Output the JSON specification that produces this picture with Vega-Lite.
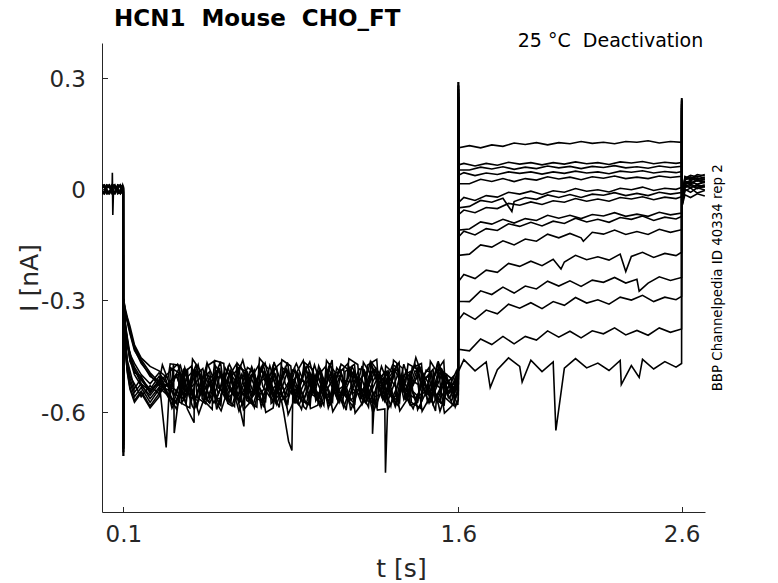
{
"$schema": "https://vega.github.io/schema/vega-lite/v6.json",
"width": 603,
"height": 469,
"autosize": {"type": "none"},
"padding": {"left": 102, "top": 43, "right": 73, "bottom": 71},
"background": "white",
"title": {"text": "HCN1 \u00a0Mouse \u00a0CHO_FT", "anchor": "start", "frame": "group", "dx": 12, "offset": -17, "baseline": "alphabetic", "font": "DejaVu Sans", "fontSize": 23, "fontWeight": "bold", "color": "#000000"},
"config": {"view": {"stroke": null}, "font": "DejaVu Sans"},
"layer": [
{
"data": {"values": [
{"s":1,"t":0.005,"i":0.003},{"s":1,"t":0.015,"i":0.01},{"s":1,"t":0.025,"i":-0.006},{"s":1,"t":0.038,"i":-0.008},{"s":1,"t":0.05,"i":0.005},{"s":1,"t":0.051,"i":0.045},{"s":1,"t":0.053,"i":-0.069},{"s":1,"t":0.056,"i":-0.004},{"s":1,"t":0.062,"i":0.009},{"s":1,"t":0.075,"i":0.006},{"s":1,"t":0.087,"i":-0.011},{"s":1,"t":0.097,"i":-0.003},{"s":1,"t":0.1,"i":0.002},
{"s":1,"t":0.1005,"i":-0.72},{"s":1,"t":0.101,"i":-0.295},{"s":1,"t":0.108,"i":-0.32},{"s":1,"t":0.118,"i":-0.345},{"s":1,"t":0.13,"i":-0.37},{"s":1,"t":0.15,"i":-0.42},{"s":1,"t":0.18,"i":-0.455},{"s":1,"t":0.22,"i":-0.478},{"s":1,"t":0.26,"i":-0.49},
{"s":1,"t":0.3,"i":-0.51},{"s":1,"t":0.35,"i":-0.475},{"s":1,"t":0.4,"i":-0.533},{"s":1,"t":0.45,"i":-0.493},{"s":1,"t":0.5,"i":-0.515},{"s":1,"t":0.55,"i":-0.47},{"s":1,"t":0.6,"i":-0.527},{"s":1,"t":0.65,"i":-0.501},{"s":1,"t":0.7,"i":-0.543},{"s":1,"t":0.75,"i":-0.485},{"s":1,"t":0.8,"i":-0.517},{"s":1,"t":0.85,"i":-0.477},{"s":1,"t":0.9,"i":-0.513},{"s":1,"t":0.95,"i":-0.487},{"s":1,"t":1.0,"i":-0.535},{"s":1,"t":1.05,"i":-0.495},{"s":1,"t":1.1,"i":-0.525},{"s":1,"t":1.15,"i":-0.473},{"s":1,"t":1.2,"i":-0.52},{"s":1,"t":1.25,"i":-0.499},{"s":1,"t":1.3,"i":-0.53},{"s":1,"t":1.35,"i":-0.483},{"s":1,"t":1.4,"i":-0.48},{"s":1,"t":1.45,"i":-0.523},{"s":1,"t":1.5,"i":-0.497},{"s":1,"t":1.55,"i":-0.54},{"s":1,"t":1.6,"i":-0.49},
{"s":1,"t":0.31,"i":-0.471},{"s":1,"t":0.36,"i":-0.554},{"s":1,"t":0.41,"i":-0.458},{"s":1,"t":0.46,"i":-0.543},{"s":1,"t":0.51,"i":-0.462},{"s":1,"t":0.56,"i":-0.556},{"s":1,"t":0.61,"i":-0.469},{"s":1,"t":0.66,"i":-0.548},{"s":1,"t":0.71,"i":-0.456},{"s":1,"t":0.76,"i":-0.545},{"s":1,"t":0.81,"i":-0.46},{"s":1,"t":0.86,"i":-0.552},{"s":1,"t":0.91,"i":-0.467},{"s":1,"t":0.96,"i":-0.558},{"s":1,"t":1.01,"i":-0.462},{"s":1,"t":1.06,"i":-0.542},{"s":1,"t":1.11,"i":-0.457},{"s":1,"t":1.16,"i":-0.55},{"s":1,"t":1.21,"i":-0.466},{"s":1,"t":1.26,"i":-0.554},{"s":1,"t":1.31,"i":-0.461},{"s":1,"t":1.36,"i":-0.546},{"s":1,"t":1.41,"i":-0.454},{"s":1,"t":1.46,"i":-0.548},{"s":1,"t":1.51,"i":-0.464},{"s":1,"t":1.56,"i":-0.549},
{"s":1,"t":1.6005,"i":0.29},
{"s":1,"t":1.602,"i":0.112},{"s":1,"t":1.65,"i":0.118},{"s":1,"t":1.7,"i":0.112},{"s":1,"t":1.75,"i":0.12},{"s":1,"t":1.8,"i":0.116},{"s":1,"t":1.85,"i":0.125},{"s":1,"t":1.9,"i":0.121},{"s":1,"t":1.95,"i":0.126},{"s":1,"t":2.0,"i":0.12},{"s":1,"t":2.05,"i":0.126},{"s":1,"t":2.1,"i":0.123},{"s":1,"t":2.15,"i":0.129},{"s":1,"t":2.2,"i":0.124},{"s":1,"t":2.25,"i":0.127},{"s":1,"t":2.3,"i":0.123},{"s":1,"t":2.35,"i":0.129},{"s":1,"t":2.4,"i":0.127},{"s":1,"t":2.45,"i":0.131},{"s":1,"t":2.5,"i":0.125},{"s":1,"t":2.55,"i":0.129},{"s":1,"t":2.6,"i":0.127},
{"s":1,"t":2.6005,"i":0.246},{"s":1,"t":2.602,"i":-0.02},{"s":1,"t":2.615,"i":0.03},{"s":1,"t":2.64,"i":0.038},{"s":1,"t":2.67,"i":0.033},{"s":1,"t":2.704,"i":0.04},

{"s":2,"t":0.005,"i":-0.009},{"s":2,"t":0.015,"i":-0.01},{"s":2,"t":0.025,"i":0.008},{"s":2,"t":0.038,"i":0.009},{"s":2,"t":0.05,"i":-0.005},{"s":2,"t":0.062,"i":-0.007},{"s":2,"t":0.075,"i":0.011},{"s":2,"t":0.087,"i":0.01},{"s":2,"t":0.097,"i":0.003},{"s":2,"t":0.1,"i":-0.006},
{"s":2,"t":0.1005,"i":-0.7},{"s":2,"t":0.101,"i":-0.3},{"s":2,"t":0.108,"i":-0.36},{"s":2,"t":0.118,"i":-0.4},{"s":2,"t":0.13,"i":-0.445},{"s":2,"t":0.15,"i":-0.47},{"s":2,"t":0.18,"i":-0.5},{"s":2,"t":0.22,"i":-0.525},{"s":2,"t":0.26,"i":-0.495},
{"s":2,"t":0.325,"i":-0.55},{"s":2,"t":0.375,"i":-0.493},{"s":2,"t":0.425,"i":-0.519},{"s":2,"t":0.475,"i":-0.477},{"s":2,"t":0.525,"i":-0.535},{"s":2,"t":0.575,"i":-0.503},{"s":2,"t":0.625,"i":-0.543},{"s":2,"t":0.675,"i":-0.507},{"s":2,"t":0.725,"i":-0.533},{"s":2,"t":0.775,"i":-0.485},{"s":2,"t":0.825,"i":-0.525},{"s":2,"t":0.875,"i":-0.495},{"s":2,"t":0.925,"i":-0.547},{"s":2,"t":0.975,"i":-0.5},{"s":2,"t":1.025,"i":-0.521},{"s":2,"t":1.075,"i":-0.49},{"s":2,"t":1.125,"i":-0.537},{"s":2,"t":1.175,"i":-0.54},{"s":2,"t":1.225,"i":-0.497},{"s":2,"t":1.275,"i":-0.523},{"s":2,"t":1.325,"i":-0.48},{"s":2,"t":1.375,"i":-0.53},{"s":2,"t":1.425,"i":-0.51},{"s":2,"t":1.475,"i":-0.545},{"s":2,"t":1.525,"i":-0.487},{"s":2,"t":1.575,"i":-0.527},{"s":2,"t":1.6,"i":-0.505},
{"s":2,"t":0.356,"i":-0.562},{"s":2,"t":0.406,"i":-0.477},{"s":2,"t":0.456,"i":-0.558},{"s":2,"t":0.506,"i":-0.464},{"s":2,"t":0.556,"i":-0.551},{"s":2,"t":0.606,"i":-0.472},{"s":2,"t":0.656,"i":-0.564},{"s":2,"t":0.706,"i":-0.475},{"s":2,"t":0.756,"i":-0.56},{"s":2,"t":0.806,"i":-0.468},{"s":2,"t":0.856,"i":-0.553},{"s":2,"t":0.906,"i":-0.462},{"s":2,"t":0.956,"i":-0.558},{"s":2,"t":1.006,"i":-0.478},{"s":2,"t":1.056,"i":-0.563},{"s":2,"t":1.106,"i":-0.47},{"s":2,"t":1.156,"i":-0.554},{"s":2,"t":1.206,"i":-0.466},{"s":2,"t":1.256,"i":-0.559},{"s":2,"t":1.306,"i":-0.474},{"s":2,"t":1.356,"i":-0.566},{"s":2,"t":1.406,"i":-0.472},{"s":2,"t":1.456,"i":-0.556},{"s":2,"t":1.506,"i":-0.471},{"s":2,"t":1.556,"i":-0.549},
{"s":2,"t":1.6005,"i":0.27},
{"s":2,"t":1.602,"i":0.066},{"s":2,"t":1.625,"i":0.07},{"s":2,"t":1.675,"i":0.063},{"s":2,"t":1.725,"i":0.07},{"s":2,"t":1.775,"i":0.065},{"s":2,"t":1.825,"i":0.073},{"s":2,"t":1.875,"i":0.068},{"s":2,"t":1.925,"i":0.072},{"s":2,"t":1.975,"i":0.066},{"s":2,"t":2.025,"i":0.072},{"s":2,"t":2.075,"i":0.068},{"s":2,"t":2.125,"i":0.074},{"s":2,"t":2.175,"i":0.069},{"s":2,"t":2.225,"i":0.072},{"s":2,"t":2.275,"i":0.067},{"s":2,"t":2.325,"i":0.074},{"s":2,"t":2.375,"i":0.071},{"s":2,"t":2.425,"i":0.075},{"s":2,"t":2.475,"i":0.069},{"s":2,"t":2.525,"i":0.073},{"s":2,"t":2.575,"i":0.07},{"s":2,"t":2.6,"i":0.072},
{"s":2,"t":2.6005,"i":0.23},{"s":2,"t":2.602,"i":-0.03},{"s":2,"t":2.615,"i":0.025},{"s":2,"t":2.64,"i":0.031},{"s":2,"t":2.67,"i":0.022},{"s":2,"t":2.704,"i":0.028},

{"s":3,"t":0.005,"i":0.006},{"s":3,"t":0.015,"i":0.008},{"s":3,"t":0.025,"i":-0.011},{"s":3,"t":0.038,"i":-0.012},{"s":3,"t":0.05,"i":0.009},{"s":3,"t":0.062,"i":0.01},{"s":3,"t":0.075,"i":-0.003},{"s":3,"t":0.087,"i":-0.006},{"s":3,"t":0.097,"i":0.012},{"s":3,"t":0.1,"i":0.005},
{"s":3,"t":0.1005,"i":-0.68},{"s":3,"t":0.101,"i":-0.305},{"s":3,"t":0.108,"i":-0.395},{"s":3,"t":0.118,"i":-0.462},{"s":3,"t":0.13,"i":-0.49},{"s":3,"t":0.15,"i":-0.538},{"s":3,"t":0.18,"i":-0.51},{"s":3,"t":0.22,"i":-0.548},{"s":3,"t":0.26,"i":-0.515},{"s":3,"t":0.292,"i":-0.697},
{"s":3,"t":0.306,"i":-0.537},{"s":3,"t":0.356,"i":-0.497},{"s":3,"t":0.406,"i":-0.533},{"s":3,"t":0.456,"i":-0.507},{"s":3,"t":0.506,"i":-0.555},{"s":3,"t":0.556,"i":-0.515},{"s":3,"t":0.606,"i":-0.545},{"s":3,"t":0.656,"i":-0.493},{"s":3,"t":0.706,"i":-0.54},{"s":3,"t":0.756,"i":-0.519},{"s":3,"t":0.806,"i":-0.55},{"s":3,"t":0.856,"i":-0.503},{"s":3,"t":0.906,"i":-0.5},{"s":3,"t":0.956,"i":-0.543},{"s":3,"t":1.006,"i":-0.517},{"s":3,"t":1.056,"i":-0.56},{"s":3,"t":1.106,"i":-0.51},{"s":3,"t":1.156,"i":-0.53},{"s":3,"t":1.206,"i":-0.495},{"s":3,"t":1.256,"i":-0.553},{"s":3,"t":1.306,"i":-0.513},{"s":3,"t":1.356,"i":-0.535},{"s":3,"t":1.406,"i":-0.49},{"s":3,"t":1.456,"i":-0.547},{"s":3,"t":1.506,"i":-0.521},{"s":3,"t":1.556,"i":-0.563},{"s":3,"t":1.6,"i":-0.505},
{"s":3,"t":0.312,"i":-0.482},{"s":3,"t":0.362,"i":-0.576},{"s":3,"t":0.412,"i":-0.489},{"s":3,"t":0.462,"i":-0.568},{"s":3,"t":0.512,"i":-0.476},{"s":3,"t":0.562,"i":-0.565},{"s":3,"t":0.612,"i":-0.48},{"s":3,"t":0.662,"i":-0.572},{"s":3,"t":0.712,"i":-0.487},{"s":3,"t":0.762,"i":-0.578},{"s":3,"t":0.812,"i":-0.482},{"s":3,"t":0.862,"i":-0.562},{"s":3,"t":0.912,"i":-0.477},{"s":3,"t":0.962,"i":-0.57},{"s":3,"t":1.012,"i":-0.486},{"s":3,"t":1.062,"i":-0.574},{"s":3,"t":1.112,"i":-0.481},{"s":3,"t":1.162,"i":-0.566},{"s":3,"t":1.212,"i":-0.474},{"s":3,"t":1.262,"i":-0.568},{"s":3,"t":1.312,"i":-0.484},{"s":3,"t":1.362,"i":-0.569},{"s":3,"t":1.412,"i":-0.491},{"s":3,"t":1.462,"i":-0.574},{"s":3,"t":1.512,"i":-0.478},{"s":3,"t":1.562,"i":-0.563},
{"s":3,"t":1.6005,"i":0.25},
{"s":3,"t":1.602,"i":0.052},{"s":3,"t":1.65,"i":0.052},{"s":3,"t":1.7,"i":0.06},{"s":3,"t":1.75,"i":0.055},{"s":3,"t":1.8,"i":0.061},{"s":3,"t":1.85,"i":0.054},{"s":3,"t":1.9,"i":0.06},{"s":3,"t":1.95,"i":0.056},{"s":3,"t":2.0,"i":0.063},{"s":3,"t":2.05,"i":0.058},{"s":3,"t":2.1,"i":0.062},{"s":3,"t":2.15,"i":0.056},{"s":3,"t":2.2,"i":0.062},{"s":3,"t":2.25,"i":0.059},{"s":3,"t":2.3,"i":0.064},{"s":3,"t":2.35,"i":0.058},{"s":3,"t":2.4,"i":0.061},{"s":3,"t":2.45,"i":0.057},{"s":3,"t":2.5,"i":0.063},{"s":3,"t":2.55,"i":0.059},{"s":3,"t":2.6,"i":0.062},
{"s":3,"t":2.6005,"i":0.22},{"s":3,"t":2.602,"i":-0.04},{"s":3,"t":2.615,"i":0.02},{"s":3,"t":2.64,"i":0.015},{"s":3,"t":2.67,"i":0.026},{"s":3,"t":2.704,"i":0.021},

{"s":4,"t":0.005,"i":-0.005},{"s":4,"t":0.015,"i":-0.009},{"s":4,"t":0.025,"i":0.009},{"s":4,"t":0.038,"i":0.011},{"s":4,"t":0.05,"i":-0.012},{"s":4,"t":0.062,"i":-0.01},{"s":4,"t":0.075,"i":0.006},{"s":4,"t":0.087,"i":0.008},{"s":4,"t":0.097,"i":-0.008},{"s":4,"t":0.1,"i":0.003},
{"s":4,"t":0.1005,"i":-0.71},{"s":4,"t":0.101,"i":-0.3},{"s":4,"t":0.108,"i":-0.365},{"s":4,"t":0.118,"i":-0.415},{"s":4,"t":0.13,"i":-0.455},{"s":4,"t":0.15,"i":-0.49},{"s":4,"t":0.18,"i":-0.515},{"s":4,"t":0.22,"i":-0.545},{"s":4,"t":0.26,"i":-0.52},
{"s":4,"t":0.331,"i":-0.54},{"s":4,"t":0.381,"i":-0.51},{"s":4,"t":0.431,"i":-0.562},{"s":4,"t":0.481,"i":-0.515},{"s":4,"t":0.531,"i":-0.536},{"s":4,"t":0.581,"i":-0.505},{"s":4,"t":0.631,"i":-0.552},{"s":4,"t":0.681,"i":-0.555},{"s":4,"t":0.731,"i":-0.512},{"s":4,"t":0.781,"i":-0.538},{"s":4,"t":0.831,"i":-0.495},{"s":4,"t":0.881,"i":-0.545},{"s":4,"t":0.931,"i":-0.525},{"s":4,"t":0.981,"i":-0.56},{"s":4,"t":1.031,"i":-0.502},{"s":4,"t":1.081,"i":-0.542},{"s":4,"t":1.131,"i":-0.52},{"s":4,"t":1.181,"i":-0.565},{"s":4,"t":1.231,"i":-0.508},{"s":4,"t":1.281,"i":-0.534},{"s":4,"t":1.331,"i":-0.492},{"s":4,"t":1.381,"i":-0.55},{"s":4,"t":1.431,"i":-0.518},{"s":4,"t":1.481,"i":-0.558},{"s":4,"t":1.531,"i":-0.522},{"s":4,"t":1.581,"i":-0.548},{"s":4,"t":1.6,"i":-0.5},
{"s":4,"t":0.369,"i":-0.566},{"s":4,"t":0.419,"i":-0.487},{"s":4,"t":0.469,"i":-0.579},{"s":4,"t":0.519,"i":-0.49},{"s":4,"t":0.569,"i":-0.575},{"s":4,"t":0.619,"i":-0.483},{"s":4,"t":0.669,"i":-0.568},{"s":4,"t":0.719,"i":-0.477},{"s":4,"t":0.769,"i":-0.573},{"s":4,"t":0.819,"i":-0.493},{"s":4,"t":0.869,"i":-0.578},{"s":4,"t":0.919,"i":-0.485},{"s":4,"t":0.969,"i":-0.569},{"s":4,"t":1.019,"i":-0.481},{"s":4,"t":1.069,"i":-0.574},{"s":4,"t":1.119,"i":-0.489},{"s":4,"t":1.169,"i":-0.581},{"s":4,"t":1.219,"i":-0.487},{"s":4,"t":1.269,"i":-0.571},{"s":4,"t":1.319,"i":-0.486},{"s":4,"t":1.369,"i":-0.564},{"s":4,"t":1.419,"i":-0.481},{"s":4,"t":1.469,"i":-0.577},{"s":4,"t":1.519,"i":-0.492},{"s":4,"t":1.569,"i":-0.573},
{"s":4,"t":1.6005,"i":0.28},
{"s":4,"t":1.602,"i":0.038},{"s":4,"t":1.625,"i":0.045},{"s":4,"t":1.675,"i":0.037},{"s":4,"t":1.725,"i":0.044},{"s":4,"t":1.775,"i":0.04},{"s":4,"t":1.825,"i":0.047},{"s":4,"t":1.875,"i":0.043},{"s":4,"t":1.925,"i":0.047},{"s":4,"t":1.975,"i":0.041},{"s":4,"t":2.025,"i":0.047},{"s":4,"t":2.075,"i":0.043},{"s":4,"t":2.125,"i":0.049},{"s":4,"t":2.175,"i":0.044},{"s":4,"t":2.225,"i":0.047},{"s":4,"t":2.275,"i":0.042},{"s":4,"t":2.325,"i":0.049},{"s":4,"t":2.375,"i":0.046},{"s":4,"t":2.425,"i":0.05},{"s":4,"t":2.475,"i":0.044},{"s":4,"t":2.525,"i":0.048},{"s":4,"t":2.575,"i":0.045},{"s":4,"t":2.6,"i":0.048},
{"s":4,"t":2.6005,"i":0.24},{"s":4,"t":2.602,"i":-0.025},{"s":4,"t":2.615,"i":0.035},{"s":4,"t":2.64,"i":0.028},{"s":4,"t":2.67,"i":0.04},{"s":4,"t":2.704,"i":0.036},

{"s":5,"t":0.005,"i":0.011},{"s":5,"t":0.015,"i":0.012},{"s":5,"t":0.025,"i":-0.003},{"s":5,"t":0.038,"i":-0.007},{"s":5,"t":0.05,"i":0.006},{"s":5,"t":0.062,"i":0.008},{"s":5,"t":0.075,"i":-0.009},{"s":5,"t":0.087,"i":-0.01},{"s":5,"t":0.097,"i":0.005},{"s":5,"t":0.1,"i":-0.002},
{"s":5,"t":0.1005,"i":-0.66},{"s":5,"t":0.101,"i":-0.298},{"s":5,"t":0.108,"i":-0.33},{"s":5,"t":0.118,"i":-0.35},{"s":5,"t":0.13,"i":-0.385},{"s":5,"t":0.15,"i":-0.43},{"s":5,"t":0.18,"i":-0.47},{"s":5,"t":0.22,"i":-0.5},{"s":5,"t":0.26,"i":-0.53},
{"s":5,"t":0.312,"i":-0.545},{"s":5,"t":0.328,"i":-0.658},{"s":5,"t":0.362,"i":-0.498},{"s":5,"t":0.412,"i":-0.495},{"s":5,"t":0.462,"i":-0.538},{"s":5,"t":0.512,"i":-0.512},{"s":5,"t":0.562,"i":-0.555},{"s":5,"t":0.612,"i":-0.505},{"s":5,"t":0.662,"i":-0.525},{"s":5,"t":0.712,"i":-0.49},{"s":5,"t":0.762,"i":-0.548},{"s":5,"t":0.812,"i":-0.508},{"s":5,"t":0.862,"i":-0.53},{"s":5,"t":0.912,"i":-0.485},{"s":5,"t":0.962,"i":-0.542},{"s":5,"t":1.012,"i":-0.516},{"s":5,"t":1.062,"i":-0.558},{"s":5,"t":1.112,"i":-0.5},{"s":5,"t":1.162,"i":-0.532},{"s":5,"t":1.212,"i":-0.492},{"s":5,"t":1.262,"i":-0.528},{"s":5,"t":1.312,"i":-0.502},{"s":5,"t":1.362,"i":-0.55},{"s":5,"t":1.412,"i":-0.51},{"s":5,"t":1.462,"i":-0.54},{"s":5,"t":1.512,"i":-0.488},{"s":5,"t":1.562,"i":-0.535},{"s":5,"t":1.6,"i":-0.514},
{"s":5,"t":0.325,"i":-0.471},{"s":5,"t":0.375,"i":-0.56},{"s":5,"t":0.425,"i":-0.475},{"s":5,"t":0.475,"i":-0.567},{"s":5,"t":0.525,"i":-0.482},{"s":5,"t":0.575,"i":-0.573},{"s":5,"t":0.625,"i":-0.477},{"s":5,"t":0.675,"i":-0.557},{"s":5,"t":0.725,"i":-0.472},{"s":5,"t":0.775,"i":-0.565},{"s":5,"t":0.825,"i":-0.481},{"s":5,"t":0.875,"i":-0.569},{"s":5,"t":0.925,"i":-0.476},{"s":5,"t":0.975,"i":-0.561},{"s":5,"t":1.025,"i":-0.469},{"s":5,"t":1.075,"i":-0.563},{"s":5,"t":1.125,"i":-0.479},{"s":5,"t":1.175,"i":-0.564},{"s":5,"t":1.225,"i":-0.486},{"s":5,"t":1.275,"i":-0.569},{"s":5,"t":1.325,"i":-0.473},{"s":5,"t":1.375,"i":-0.558},{"s":5,"t":1.425,"i":-0.477},{"s":5,"t":1.475,"i":-0.571},{"s":5,"t":1.525,"i":-0.484},{"s":5,"t":1.575,"i":-0.563},
{"s":5,"t":1.6005,"i":0.26},
{"s":5,"t":1.602,"i":0.015},{"s":5,"t":1.65,"i":0.015},{"s":5,"t":1.7,"i":0.027},{"s":5,"t":1.75,"i":0.021},{"s":5,"t":1.8,"i":0.029},{"s":5,"t":1.85,"i":0.021},{"s":5,"t":1.9,"i":0.029},{"s":5,"t":1.95,"i":0.025},{"s":5,"t":2.0,"i":0.034},{"s":5,"t":2.05,"i":0.028},{"s":5,"t":2.1,"i":0.033},{"s":5,"t":2.15,"i":0.026},{"s":5,"t":2.2,"i":0.034},{"s":5,"t":2.25,"i":0.03},{"s":5,"t":2.3,"i":0.036},{"s":5,"t":2.35,"i":0.029},{"s":5,"t":2.4,"i":0.033},{"s":5,"t":2.45,"i":0.029},{"s":5,"t":2.5,"i":0.036},{"s":5,"t":2.55,"i":0.032},{"s":5,"t":2.6,"i":0.035},
{"s":5,"t":2.6005,"i":0.21},{"s":5,"t":2.602,"i":-0.035},{"s":5,"t":2.615,"i":0.012},{"s":5,"t":2.64,"i":0.02},{"s":5,"t":2.67,"i":0.014},{"s":5,"t":2.704,"i":0.022},

{"s":6,"t":0.005,"i":-0.012},{"s":6,"t":0.015,"i":-0.007},{"s":6,"t":0.025,"i":0.005},{"s":6,"t":0.038,"i":0.01},{"s":6,"t":0.05,"i":-0.008},{"s":6,"t":0.062,"i":-0.012},{"s":6,"t":0.075,"i":0.012},{"s":6,"t":0.087,"i":0.009},{"s":6,"t":0.097,"i":-0.005},{"s":6,"t":0.1,"i":0.008},
{"s":6,"t":0.1005,"i":-0.69},{"s":6,"t":0.101,"i":-0.302},{"s":6,"t":0.108,"i":-0.41},{"s":6,"t":0.118,"i":-0.47},{"s":6,"t":0.13,"i":-0.505},{"s":6,"t":0.15,"i":-0.525},{"s":6,"t":0.18,"i":-0.56},{"s":6,"t":0.22,"i":-0.53},{"s":6,"t":0.26,"i":-0.552},
{"s":6,"t":0.337,"i":-0.5},{"s":6,"t":0.387,"i":-0.55},{"s":6,"t":0.437,"i":-0.53},{"s":6,"t":0.487,"i":-0.565},{"s":6,"t":0.537,"i":-0.507},{"s":6,"t":0.587,"i":-0.547},{"s":6,"t":0.637,"i":-0.525},{"s":6,"t":0.687,"i":-0.57},{"s":6,"t":0.737,"i":-0.513},{"s":6,"t":0.787,"i":-0.539},{"s":6,"t":0.837,"i":-0.497},{"s":6,"t":0.887,"i":-0.555},{"s":6,"t":0.937,"i":-0.523},{"s":6,"t":0.987,"i":-0.563},{"s":6,"t":1.037,"i":-0.527},{"s":6,"t":1.087,"i":-0.553},{"s":6,"t":1.137,"i":-0.505},{"s":6,"t":1.187,"i":-0.545},{"s":6,"t":1.237,"i":-0.515},{"s":6,"t":1.287,"i":-0.567},{"s":6,"t":1.337,"i":-0.52},{"s":6,"t":1.387,"i":-0.541},{"s":6,"t":1.437,"i":-0.51},{"s":6,"t":1.487,"i":-0.557},{"s":6,"t":1.537,"i":-0.56},{"s":6,"t":1.587,"i":-0.517},{"s":6,"t":1.6,"i":-0.543},
{"s":6,"t":0.381,"i":-0.58},{"s":6,"t":0.431,"i":-0.488},{"s":6,"t":0.481,"i":-0.573},{"s":6,"t":0.531,"i":-0.482},{"s":6,"t":0.581,"i":-0.578},{"s":6,"t":0.631,"i":-0.498},{"s":6,"t":0.681,"i":-0.583},{"s":6,"t":0.731,"i":-0.49},{"s":6,"t":0.781,"i":-0.574},{"s":6,"t":0.831,"i":-0.486},{"s":6,"t":0.881,"i":-0.579},{"s":6,"t":0.931,"i":-0.494},{"s":6,"t":0.981,"i":-0.586},{"s":6,"t":1.031,"i":-0.492},{"s":6,"t":1.081,"i":-0.576},{"s":6,"t":1.131,"i":-0.491},{"s":6,"t":1.181,"i":-0.569},{"s":6,"t":1.231,"i":-0.486},{"s":6,"t":1.281,"i":-0.582},{"s":6,"t":1.331,"i":-0.497},{"s":6,"t":1.381,"i":-0.578},{"s":6,"t":1.431,"i":-0.484},{"s":6,"t":1.481,"i":-0.571},{"s":6,"t":1.531,"i":-0.492},{"s":6,"t":1.581,"i":-0.584},
{"s":6,"t":1.6005,"i":0.24},
{"s":6,"t":1.602,"i":-0.035},{"s":6,"t":1.625,"i":-0.022},{"s":6,"t":1.675,"i":-0.03},{"s":6,"t":1.725,"i":-0.017},{"s":6,"t":1.775,"i":-0.021},{"s":6,"t":1.825,"i":-0.008},{"s":6,"t":1.875,"i":-0.013},{"s":6,"t":1.925,"i":-0.005},{"s":6,"t":1.975,"i":-0.014},{"s":6,"t":2.025,"i":-0.004},{"s":6,"t":2.075,"i":-0.008},{"s":6,"t":2.125,"i":0.002},{"s":6,"t":2.175,"i":-0.005},{"s":6,"t":2.225,"i":-0.001},{"s":6,"t":2.275,"i":-0.007},{"s":6,"t":2.325,"i":0.003},{"s":6,"t":2.375,"i":-0.001},{"s":6,"t":2.425,"i":0.006},{"s":6,"t":2.475,"i":-0.003},{"s":6,"t":2.525,"i":0.003},{"s":6,"t":2.575,"i":0.0},{"s":6,"t":2.6,"i":0.005},
{"s":6,"t":2.6005,"i":0.235},{"s":6,"t":2.602,"i":-0.045},{"s":6,"t":2.615,"i":0.005},{"s":6,"t":2.64,"i":0.01},{"s":6,"t":2.67,"i":0.002},{"s":6,"t":2.704,"i":0.008},

{"s":7,"t":0.005,"i":0.008},{"s":7,"t":0.015,"i":0.009},{"s":7,"t":0.025,"i":-0.009},{"s":7,"t":0.038,"i":-0.01},{"s":7,"t":0.05,"i":0.012},{"s":7,"t":0.062,"i":0.007},{"s":7,"t":0.075,"i":-0.006},{"s":7,"t":0.087,"i":-0.012},{"s":7,"t":0.097,"i":0.009},{"s":7,"t":0.1,"i":-0.003},
{"s":7,"t":0.1005,"i":-0.72},{"s":7,"t":0.101,"i":-0.3},{"s":7,"t":0.108,"i":-0.37},{"s":7,"t":0.118,"i":-0.42},{"s":7,"t":0.13,"i":-0.46},{"s":7,"t":0.15,"i":-0.5},{"s":7,"t":0.18,"i":-0.53},{"s":7,"t":0.22,"i":-0.556},{"s":7,"t":0.26,"i":-0.525},
{"s":7,"t":0.318,"i":-0.528},{"s":7,"t":0.368,"i":-0.55},{"s":7,"t":0.417,"i":-0.63},{"s":7,"t":0.418,"i":-0.505},{"s":7,"t":0.468,"i":-0.562},{"s":7,"t":0.518,"i":-0.536},{"s":7,"t":0.568,"i":-0.578},{"s":7,"t":0.618,"i":-0.52},{"s":7,"t":0.668,"i":-0.552},{"s":7,"t":0.718,"i":-0.512},{"s":7,"t":0.768,"i":-0.548},{"s":7,"t":0.818,"i":-0.522},{"s":7,"t":0.868,"i":-0.57},{"s":7,"t":0.918,"i":-0.53},{"s":7,"t":0.968,"i":-0.56},{"s":7,"t":1.018,"i":-0.508},{"s":7,"t":1.068,"i":-0.555},{"s":7,"t":1.118,"i":-0.534},{"s":7,"t":1.168,"i":-0.565},{"s":7,"t":1.218,"i":-0.518},{"s":7,"t":1.268,"i":-0.515},{"s":7,"t":1.318,"i":-0.558},{"s":7,"t":1.368,"i":-0.532},{"s":7,"t":1.418,"i":-0.575},{"s":7,"t":1.468,"i":-0.525},{"s":7,"t":1.518,"i":-0.545},{"s":7,"t":1.568,"i":-0.51},{"s":7,"t":1.6,"i":-0.568},
{"s":7,"t":0.337,"i":-0.502},{"s":7,"t":0.387,"i":-0.593},{"s":7,"t":0.437,"i":-0.497},{"s":7,"t":0.487,"i":-0.577},{"s":7,"t":0.537,"i":-0.492},{"s":7,"t":0.587,"i":-0.585},{"s":7,"t":0.637,"i":-0.501},{"s":7,"t":0.687,"i":-0.589},{"s":7,"t":0.737,"i":-0.496},{"s":7,"t":0.787,"i":-0.581},{"s":7,"t":0.837,"i":-0.489},{"s":7,"t":0.887,"i":-0.583},{"s":7,"t":0.937,"i":-0.499},{"s":7,"t":0.987,"i":-0.584},{"s":7,"t":1.037,"i":-0.506},{"s":7,"t":1.087,"i":-0.589},{"s":7,"t":1.137,"i":-0.493},{"s":7,"t":1.187,"i":-0.578},{"s":7,"t":1.237,"i":-0.497},{"s":7,"t":1.287,"i":-0.591},{"s":7,"t":1.337,"i":-0.504},{"s":7,"t":1.387,"i":-0.583},{"s":7,"t":1.437,"i":-0.491},{"s":7,"t":1.487,"i":-0.58},{"s":7,"t":1.537,"i":-0.495},{"s":7,"t":1.587,"i":-0.587},
{"s":7,"t":1.6005,"i":0.29},
{"s":7,"t":1.602,"i":-0.05},{"s":7,"t":1.65,"i":-0.046},{"s":7,"t":1.7,"i":-0.03},{"s":7,"t":1.75,"i":-0.035},{"s":7,"t":1.8,"i":-0.024},{"s":7,"t":1.84,"i":-0.06},{"s":7,"t":1.85,"i":-0.033},{"s":7,"t":1.9,"i":-0.022},{"s":7,"t":1.95,"i":-0.027},{"s":7,"t":2.0,"i":-0.015},{"s":7,"t":2.05,"i":-0.022},{"s":7,"t":2.1,"i":-0.014},{"s":7,"t":2.15,"i":-0.022},{"s":7,"t":2.2,"i":-0.013},{"s":7,"t":2.25,"i":-0.016},{"s":7,"t":2.3,"i":-0.009},{"s":7,"t":2.35,"i":-0.017},{"s":7,"t":2.4,"i":-0.011},{"s":7,"t":2.45,"i":-0.017},{"s":7,"t":2.5,"i":-0.008},{"s":7,"t":2.55,"i":-0.013},{"s":7,"t":2.6,"i":-0.009},
{"s":7,"t":2.6005,"i":0.246},{"s":7,"t":2.602,"i":-0.03},{"s":7,"t":2.615,"i":0.018},{"s":7,"t":2.64,"i":0.024},{"s":7,"t":2.67,"i":0.03},{"s":7,"t":2.704,"i":0.026},

{"s":8,"t":0.005,"i":-0.003},{"s":8,"t":0.015,"i":-0.011},{"s":8,"t":0.025,"i":0.012},{"s":8,"t":0.038,"i":0.008},{"s":8,"t":0.05,"i":-0.006},{"s":8,"t":0.062,"i":-0.009},{"s":8,"t":0.075,"i":0.003},{"s":8,"t":0.087,"i":0.01},{"s":8,"t":0.097,"i":-0.011},{"s":8,"t":0.1,"i":0.006},
{"s":8,"t":0.1005,"i":-0.67},{"s":8,"t":0.101,"i":-0.296},{"s":8,"t":0.108,"i":-0.325},{"s":8,"t":0.118,"i":-0.355},{"s":8,"t":0.13,"i":-0.38},{"s":8,"t":0.15,"i":-0.425},{"s":8,"t":0.18,"i":-0.46},{"s":8,"t":0.22,"i":-0.495},{"s":8,"t":0.26,"i":-0.52},
{"s":8,"t":0.343,"i":-0.472},{"s":8,"t":0.393,"i":-0.53},{"s":8,"t":0.443,"i":-0.498},{"s":8,"t":0.493,"i":-0.538},{"s":8,"t":0.543,"i":-0.502},{"s":8,"t":0.593,"i":-0.528},{"s":8,"t":0.643,"i":-0.48},{"s":8,"t":0.693,"i":-0.52},{"s":8,"t":0.743,"i":-0.49},{"s":8,"t":0.793,"i":-0.542},{"s":8,"t":0.843,"i":-0.495},{"s":8,"t":0.893,"i":-0.516},{"s":8,"t":0.943,"i":-0.485},{"s":8,"t":0.993,"i":-0.532},{"s":8,"t":1.043,"i":-0.535},{"s":8,"t":1.093,"i":-0.492},{"s":8,"t":1.143,"i":-0.518},{"s":8,"t":1.193,"i":-0.475},{"s":8,"t":1.243,"i":-0.525},{"s":8,"t":1.293,"i":-0.505},{"s":8,"t":1.343,"i":-0.54},{"s":8,"t":1.393,"i":-0.482},{"s":8,"t":1.443,"i":-0.522},{"s":8,"t":1.493,"i":-0.5},{"s":8,"t":1.543,"i":-0.545},{"s":8,"t":1.593,"i":-0.488},{"s":8,"t":1.6,"i":-0.514},
{"s":8,"t":0.385,"i":-0.553},{"s":8,"t":0.435,"i":-0.473},{"s":8,"t":0.485,"i":-0.558},{"s":8,"t":0.535,"i":-0.465},{"s":8,"t":0.585,"i":-0.549},{"s":8,"t":0.635,"i":-0.461},{"s":8,"t":0.685,"i":-0.554},{"s":8,"t":0.735,"i":-0.469},{"s":8,"t":0.785,"i":-0.561},{"s":8,"t":0.835,"i":-0.467},{"s":8,"t":0.885,"i":-0.551},{"s":8,"t":0.935,"i":-0.466},{"s":8,"t":0.985,"i":-0.544},{"s":8,"t":1.035,"i":-0.461},{"s":8,"t":1.085,"i":-0.557},{"s":8,"t":1.135,"i":-0.472},{"s":8,"t":1.185,"i":-0.553},{"s":8,"t":1.235,"i":-0.459},{"s":8,"t":1.285,"i":-0.546},{"s":8,"t":1.335,"i":-0.467},{"s":8,"t":1.385,"i":-0.559},{"s":8,"t":1.435,"i":-0.47},{"s":8,"t":1.485,"i":-0.555},{"s":8,"t":1.535,"i":-0.463},{"s":8,"t":1.585,"i":-0.548},
{"s":8,"t":1.6005,"i":0.27},
{"s":8,"t":1.602,"i":-0.068},{"s":8,"t":1.625,"i":-0.056},{"s":8,"t":1.675,"i":-0.063},{"s":8,"t":1.725,"i":-0.049},{"s":8,"t":1.775,"i":-0.052},{"s":8,"t":1.825,"i":-0.038},{"s":8,"t":1.875,"i":-0.043},{"s":8,"t":1.925,"i":-0.034},{"s":8,"t":1.975,"i":-0.041},{"s":8,"t":2.025,"i":-0.031},{"s":8,"t":2.075,"i":-0.035},{"s":8,"t":2.125,"i":-0.025},{"s":8,"t":2.175,"i":-0.032},{"s":8,"t":2.225,"i":-0.026},{"s":8,"t":2.275,"i":-0.032},{"s":8,"t":2.325,"i":-0.022},{"s":8,"t":2.375,"i":-0.026},{"s":8,"t":2.425,"i":-0.02},{"s":8,"t":2.475,"i":-0.028},{"s":8,"t":2.525,"i":-0.021},{"s":8,"t":2.575,"i":-0.025},{"s":8,"t":2.6,"i":-0.02},
{"s":8,"t":2.6005,"i":0.22},{"s":8,"t":2.602,"i":-0.04},{"s":8,"t":2.615,"i":0.0},{"s":8,"t":2.64,"i":-0.008},{"s":8,"t":2.67,"i":0.004},{"s":8,"t":2.704,"i":-0.002},

{"s":9,"t":0.005,"i":0.009},{"s":9,"t":0.015,"i":0.01},{"s":9,"t":0.025,"i":-0.005},{"s":9,"t":0.038,"i":-0.009},{"s":9,"t":0.05,"i":0.003},{"s":9,"t":0.062,"i":0.012},{"s":9,"t":0.075,"i":-0.012},{"s":9,"t":0.087,"i":-0.008},{"s":9,"t":0.097,"i":0.006},{"s":9,"t":0.1,"i":-0.008},
{"s":9,"t":0.1005,"i":-0.7},{"s":9,"t":0.101,"i":-0.304},{"s":9,"t":0.108,"i":-0.42},{"s":9,"t":0.118,"i":-0.485},{"s":9,"t":0.13,"i":-0.52},{"s":9,"t":0.15,"i":-0.56},{"s":9,"t":0.18,"i":-0.535},{"s":9,"t":0.22,"i":-0.575},{"s":9,"t":0.26,"i":-0.54},
{"s":9,"t":0.303,"i":-0.527},{"s":9,"t":0.353,"i":-0.575},{"s":9,"t":0.403,"i":-0.535},{"s":9,"t":0.453,"i":-0.565},{"s":9,"t":0.503,"i":-0.513},{"s":9,"t":0.553,"i":-0.56},{"s":9,"t":0.603,"i":-0.539},{"s":9,"t":0.64,"i":-0.64},{"s":9,"t":0.653,"i":-0.57},{"s":9,"t":0.703,"i":-0.523},{"s":9,"t":0.753,"i":-0.52},{"s":9,"t":0.803,"i":-0.563},{"s":9,"t":0.853,"i":-0.537},{"s":9,"t":0.903,"i":-0.58},{"s":9,"t":0.953,"i":-0.53},{"s":9,"t":1.003,"i":-0.55},{"s":9,"t":1.053,"i":-0.515},{"s":9,"t":1.103,"i":-0.573},{"s":9,"t":1.153,"i":-0.533},{"s":9,"t":1.203,"i":-0.555},{"s":9,"t":1.253,"i":-0.51},{"s":9,"t":1.303,"i":-0.567},{"s":9,"t":1.353,"i":-0.541},{"s":9,"t":1.403,"i":-0.583},{"s":9,"t":1.453,"i":-0.525},{"s":9,"t":1.503,"i":-0.557},{"s":9,"t":1.553,"i":-0.517},{"s":9,"t":1.6,"i":-0.553},
{"s":9,"t":0.348,"i":-0.497},{"s":9,"t":0.398,"i":-0.59},{"s":9,"t":0.448,"i":-0.506},{"s":9,"t":0.498,"i":-0.594},{"s":9,"t":0.548,"i":-0.501},{"s":9,"t":0.598,"i":-0.586},{"s":9,"t":0.648,"i":-0.494},{"s":9,"t":0.698,"i":-0.588},{"s":9,"t":0.748,"i":-0.504},{"s":9,"t":0.798,"i":-0.589},{"s":9,"t":0.848,"i":-0.511},{"s":9,"t":0.898,"i":-0.594},{"s":9,"t":0.948,"i":-0.498},{"s":9,"t":0.998,"i":-0.583},{"s":9,"t":1.048,"i":-0.502},{"s":9,"t":1.098,"i":-0.596},{"s":9,"t":1.148,"i":-0.509},{"s":9,"t":1.198,"i":-0.588},{"s":9,"t":1.248,"i":-0.496},{"s":9,"t":1.298,"i":-0.585},{"s":9,"t":1.348,"i":-0.5},{"s":9,"t":1.398,"i":-0.592},{"s":9,"t":1.448,"i":-0.507},{"s":9,"t":1.498,"i":-0.598},{"s":9,"t":1.548,"i":-0.502},{"s":9,"t":1.598,"i":-0.582},
{"s":9,"t":1.6005,"i":0.25},
{"s":9,"t":1.602,"i":-0.11},{"s":9,"t":1.65,"i":-0.107},{"s":9,"t":1.7,"i":-0.088},{"s":9,"t":1.75,"i":-0.094},{"s":9,"t":1.8,"i":-0.081},{"s":9,"t":1.85,"i":-0.091},{"s":9,"t":1.9,"i":-0.079},{"s":9,"t":1.95,"i":-0.084},{"s":9,"t":2.0,"i":-0.07},{"s":9,"t":2.05,"i":-0.078},{"s":9,"t":2.1,"i":-0.07},{"s":9,"t":2.15,"i":-0.079},{"s":9,"t":2.2,"i":-0.068},{"s":9,"t":2.25,"i":-0.072},{"s":9,"t":2.3,"i":-0.063},{"s":9,"t":2.35,"i":-0.073},{"s":9,"t":2.4,"i":-0.067},{"s":9,"t":2.45,"i":-0.073},{"s":9,"t":2.5,"i":-0.062},{"s":9,"t":2.55,"i":-0.069},{"s":9,"t":2.6,"i":-0.064},
{"s":9,"t":2.6005,"i":0.23},{"s":9,"t":2.602,"i":-0.02},{"s":9,"t":2.615,"i":0.028},{"s":9,"t":2.64,"i":0.034},{"s":9,"t":2.67,"i":0.027},{"s":9,"t":2.704,"i":0.032},

{"s":10,"t":0.005,"i":-0.008},{"s":10,"t":0.015,"i":-0.008},{"s":10,"t":0.025,"i":0.006},{"s":10,"t":0.038,"i":0.012},{"s":10,"t":0.05,"i":-0.011},{"s":10,"t":0.062,"i":-0.008},{"s":10,"t":0.075,"i":0.008},{"s":10,"t":0.087,"i":0.011},{"s":10,"t":0.097,"i":-0.002},{"s":10,"t":0.1,"i":0.009},
{"s":10,"t":0.1005,"i":-0.68},{"s":10,"t":0.101,"i":-0.3},{"s":10,"t":0.108,"i":-0.355},{"s":10,"t":0.118,"i":-0.41},{"s":10,"t":0.13,"i":-0.45},{"s":10,"t":0.15,"i":-0.48},{"s":10,"t":0.18,"i":-0.51},{"s":10,"t":0.22,"i":-0.54},{"s":10,"t":0.26,"i":-0.505},
{"s":10,"t":0.328,"i":-0.51},{"s":10,"t":0.378,"i":-0.531},{"s":10,"t":0.428,"i":-0.5},{"s":10,"t":0.478,"i":-0.547},{"s":10,"t":0.528,"i":-0.55},{"s":10,"t":0.578,"i":-0.507},{"s":10,"t":0.628,"i":-0.533},{"s":10,"t":0.678,"i":-0.49},{"s":10,"t":0.728,"i":-0.54},{"s":10,"t":0.778,"i":-0.52},{"s":10,"t":0.828,"i":-0.555},{"s":10,"t":0.878,"i":-0.497},{"s":10,"t":0.928,"i":-0.537},{"s":10,"t":0.978,"i":-0.515},{"s":10,"t":1.028,"i":-0.56},{"s":10,"t":1.078,"i":-0.503},{"s":10,"t":1.128,"i":-0.529},{"s":10,"t":1.178,"i":-0.487},{"s":10,"t":1.228,"i":-0.545},{"s":10,"t":1.278,"i":-0.513},{"s":10,"t":1.328,"i":-0.553},{"s":10,"t":1.378,"i":-0.517},{"s":10,"t":1.428,"i":-0.543},{"s":10,"t":1.478,"i":-0.495},{"s":10,"t":1.528,"i":-0.535},{"s":10,"t":1.578,"i":-0.505},{"s":10,"t":1.6,"i":-0.557},
{"s":10,"t":0.306,"i":-0.564},{"s":10,"t":0.356,"i":-0.476},{"s":10,"t":0.406,"i":-0.569},{"s":10,"t":0.456,"i":-0.484},{"s":10,"t":0.506,"i":-0.576},{"s":10,"t":0.556,"i":-0.482},{"s":10,"t":0.606,"i":-0.566},{"s":10,"t":0.656,"i":-0.481},{"s":10,"t":0.706,"i":-0.559},{"s":10,"t":0.756,"i":-0.476},{"s":10,"t":0.806,"i":-0.572},{"s":10,"t":0.856,"i":-0.487},{"s":10,"t":0.906,"i":-0.568},{"s":10,"t":0.956,"i":-0.474},{"s":10,"t":1.006,"i":-0.561},{"s":10,"t":1.056,"i":-0.482},{"s":10,"t":1.106,"i":-0.574},{"s":10,"t":1.156,"i":-0.485},{"s":10,"t":1.206,"i":-0.57},{"s":10,"t":1.256,"i":-0.478},{"s":10,"t":1.306,"i":-0.563},{"s":10,"t":1.356,"i":-0.472},{"s":10,"t":1.406,"i":-0.568},{"s":10,"t":1.456,"i":-0.488},{"s":10,"t":1.506,"i":-0.573},
{"s":10,"t":1.6005,"i":0.28},
{"s":10,"t":1.602,"i":-0.128},{"s":10,"t":1.625,"i":-0.113},{"s":10,"t":1.675,"i":-0.123},{"s":10,"t":1.725,"i":-0.106},{"s":10,"t":1.775,"i":-0.111},{"s":10,"t":1.825,"i":-0.093},{"s":10,"t":1.875,"i":-0.1},{"s":10,"t":1.925,"i":-0.089},{"s":10,"t":1.975,"i":-0.099},{"s":10,"t":2.025,"i":-0.086},{"s":10,"t":2.075,"i":-0.092},{"s":10,"t":2.125,"i":-0.078},{"s":10,"t":2.175,"i":-0.088},{"s":10,"t":2.225,"i":-0.081},{"s":10,"t":2.275,"i":-0.089},{"s":10,"t":2.325,"i":-0.076},{"s":10,"t":2.375,"i":-0.081},{"s":10,"t":2.425,"i":-0.072},{"s":10,"t":2.475,"i":-0.084},{"s":10,"t":2.525,"i":-0.075},{"s":10,"t":2.575,"i":-0.08},{"s":10,"t":2.6,"i":-0.073},
{"s":10,"t":2.6005,"i":0.2},{"s":10,"t":2.602,"i":-0.035},{"s":10,"t":2.615,"i":0.01},{"s":10,"t":2.64,"i":0.004},{"s":10,"t":2.67,"i":0.012},{"s":10,"t":2.704,"i":0.006},

{"s":11,"t":0.005,"i":0.005},{"s":11,"t":0.015,"i":0.011},{"s":11,"t":0.025,"i":-0.012},{"s":11,"t":0.038,"i":-0.01},{"s":11,"t":0.05,"i":0.008},{"s":11,"t":0.062,"i":0.009},{"s":11,"t":0.075,"i":0.002},{"s":11,"t":0.087,"i":-0.009},{"s":11,"t":0.097,"i":-0.009},{"s":11,"t":0.1,"i":0.003},
{"s":11,"t":0.1005,"i":-0.71},{"s":11,"t":0.101,"i":-0.306},{"s":11,"t":0.108,"i":-0.43},{"s":11,"t":0.118,"i":-0.49},{"s":11,"t":0.13,"i":-0.535},{"s":11,"t":0.15,"i":-0.57},{"s":11,"t":0.18,"i":-0.545},{"s":11,"t":0.22,"i":-0.585},{"s":11,"t":0.26,"i":-0.552},
{"s":11,"t":0.309,"i":-0.568},{"s":11,"t":0.359,"i":-0.542},{"s":11,"t":0.409,"i":-0.585},{"s":11,"t":0.459,"i":-0.535},{"s":11,"t":0.509,"i":-0.555},{"s":11,"t":0.559,"i":-0.52},{"s":11,"t":0.609,"i":-0.578},{"s":11,"t":0.659,"i":-0.538},{"s":11,"t":0.709,"i":-0.56},{"s":11,"t":0.759,"i":-0.515},{"s":11,"t":0.809,"i":-0.572},{"s":11,"t":0.84,"i":-0.68},{"s":11,"t":0.855,"i":-0.705},{"s":11,"t":0.859,"i":-0.546},{"s":11,"t":0.909,"i":-0.588},{"s":11,"t":0.959,"i":-0.53},{"s":11,"t":1.009,"i":-0.562},{"s":11,"t":1.059,"i":-0.522},{"s":11,"t":1.109,"i":-0.558},{"s":11,"t":1.159,"i":-0.532},{"s":11,"t":1.209,"i":-0.58},{"s":11,"t":1.259,"i":-0.54},{"s":11,"t":1.309,"i":-0.57},{"s":11,"t":1.359,"i":-0.518},{"s":11,"t":1.409,"i":-0.565},{"s":11,"t":1.459,"i":-0.544},{"s":11,"t":1.509,"i":-0.575},{"s":11,"t":1.559,"i":-0.528},{"s":11,"t":1.6,"i":-0.525},
{"s":11,"t":0.268,"i":-0.506},{"s":11,"t":0.318,"i":-0.591},{"s":11,"t":0.368,"i":-0.499},{"s":11,"t":0.418,"i":-0.593},{"s":11,"t":0.468,"i":-0.509},{"s":11,"t":0.518,"i":-0.594},{"s":11,"t":0.568,"i":-0.516},{"s":11,"t":0.618,"i":-0.599},{"s":11,"t":0.668,"i":-0.503},{"s":11,"t":0.718,"i":-0.588},{"s":11,"t":0.768,"i":-0.507},{"s":11,"t":0.818,"i":-0.601},{"s":11,"t":0.868,"i":-0.514},{"s":11,"t":0.918,"i":-0.593},{"s":11,"t":0.968,"i":-0.501},{"s":11,"t":1.018,"i":-0.59},{"s":11,"t":1.068,"i":-0.505},{"s":11,"t":1.118,"i":-0.597},{"s":11,"t":1.168,"i":-0.512},{"s":11,"t":1.218,"i":-0.603},{"s":11,"t":1.268,"i":-0.507},{"s":11,"t":1.318,"i":-0.587},{"s":11,"t":1.368,"i":-0.502},{"s":11,"t":1.418,"i":-0.595},{"s":11,"t":1.468,"i":-0.511},{"s":11,"t":1.518,"i":-0.599},
{"s":11,"t":1.6005,"i":0.23},
{"s":11,"t":1.602,"i":-0.178},{"s":11,"t":1.65,"i":-0.175},{"s":11,"t":1.7,"i":-0.15},{"s":11,"t":1.75,"i":-0.156},{"s":11,"t":1.8,"i":-0.139},{"s":11,"t":1.85,"i":-0.15},{"s":11,"t":1.9,"i":-0.134},{"s":11,"t":1.95,"i":-0.14},{"s":11,"t":2.0,"i":-0.121},{"s":11,"t":2.05,"i":-0.131},{"s":11,"t":2.1,"i":-0.119},{"s":11,"t":2.15,"i":-0.131},{"s":11,"t":2.16,"i":-0.14},{"s":11,"t":2.2,"i":-0.116},{"s":11,"t":2.25,"i":-0.121},{"s":11,"t":2.3,"i":-0.11},{"s":11,"t":2.35,"i":-0.122},{"s":11,"t":2.4,"i":-0.114},{"s":11,"t":2.45,"i":-0.122},{"s":11,"t":2.5,"i":-0.108},{"s":11,"t":2.55,"i":-0.116},{"s":11,"t":2.6,"i":-0.109},
{"s":11,"t":2.6005,"i":0.24},{"s":11,"t":2.602,"i":-0.045},{"s":11,"t":2.615,"i":0.022},{"s":11,"t":2.64,"i":0.016},{"s":11,"t":2.67,"i":0.024},{"s":11,"t":2.704,"i":0.018},

{"s":12,"t":0.005,"i":-0.011},{"s":12,"t":0.015,"i":-0.012},{"s":12,"t":0.025,"i":0.003},{"s":12,"t":0.038,"i":0.007},{"s":12,"t":0.05,"i":-0.003},{"s":12,"t":0.062,"i":-0.011},{"s":12,"t":0.075,"i":0.009},{"s":12,"t":0.087,"i":0.008},{"s":12,"t":0.097,"i":0.008},{"s":12,"t":0.1,"i":-0.005},
{"s":12,"t":0.1005,"i":-0.69},{"s":12,"t":0.101,"i":-0.3},{"s":12,"t":0.108,"i":-0.36},{"s":12,"t":0.118,"i":-0.425},{"s":12,"t":0.13,"i":-0.44},{"s":12,"t":0.15,"i":-0.495},{"s":12,"t":0.18,"i":-0.505},{"s":12,"t":0.22,"i":-0.55},{"s":12,"t":0.26,"i":-0.515},
{"s":12,"t":0.334,"i":-0.56},{"s":12,"t":0.384,"i":-0.502},{"s":12,"t":0.434,"i":-0.542},{"s":12,"t":0.484,"i":-0.52},{"s":12,"t":0.534,"i":-0.565},{"s":12,"t":0.584,"i":-0.508},{"s":12,"t":0.634,"i":-0.534},{"s":12,"t":0.684,"i":-0.492},{"s":12,"t":0.734,"i":-0.55},{"s":12,"t":0.784,"i":-0.518},{"s":12,"t":0.834,"i":-0.558},{"s":12,"t":0.884,"i":-0.522},{"s":12,"t":0.934,"i":-0.548},{"s":12,"t":0.984,"i":-0.5},{"s":12,"t":1.034,"i":-0.54},{"s":12,"t":1.084,"i":-0.51},{"s":12,"t":1.134,"i":-0.562},{"s":12,"t":1.184,"i":-0.515},{"s":12,"t":1.234,"i":-0.536},{"s":12,"t":1.284,"i":-0.505},{"s":12,"t":1.334,"i":-0.552},{"s":12,"t":1.384,"i":-0.555},{"s":12,"t":1.434,"i":-0.512},{"s":12,"t":1.484,"i":-0.538},{"s":12,"t":1.534,"i":-0.495},{"s":12,"t":1.584,"i":-0.545},{"s":12,"t":1.6,"i":-0.525},
{"s":12,"t":0.319,"i":-0.581},{"s":12,"t":0.369,"i":-0.487},{"s":12,"t":0.419,"i":-0.571},{"s":12,"t":0.469,"i":-0.486},{"s":12,"t":0.519,"i":-0.564},{"s":12,"t":0.569,"i":-0.481},{"s":12,"t":0.619,"i":-0.577},{"s":12,"t":0.669,"i":-0.492},{"s":12,"t":0.719,"i":-0.573},{"s":12,"t":0.769,"i":-0.479},{"s":12,"t":0.819,"i":-0.566},{"s":12,"t":0.869,"i":-0.487},{"s":12,"t":0.919,"i":-0.579},{"s":12,"t":0.969,"i":-0.49},{"s":12,"t":1.019,"i":-0.575},{"s":12,"t":1.069,"i":-0.483},{"s":12,"t":1.119,"i":-0.568},{"s":12,"t":1.169,"i":-0.477},{"s":12,"t":1.219,"i":-0.573},{"s":12,"t":1.269,"i":-0.493},{"s":12,"t":1.319,"i":-0.578},{"s":12,"t":1.369,"i":-0.485},{"s":12,"t":1.419,"i":-0.569},{"s":12,"t":1.469,"i":-0.481},{"s":12,"t":1.519,"i":-0.574},
{"s":12,"t":1.6005,"i":0.26},
{"s":12,"t":1.602,"i":-0.248},{"s":12,"t":1.625,"i":-0.23},{"s":12,"t":1.675,"i":-0.241},{"s":12,"t":1.725,"i":-0.218},{"s":12,"t":1.775,"i":-0.224},{"s":12,"t":1.825,"i":-0.2},{"s":12,"t":1.875,"i":-0.208},{"s":12,"t":1.925,"i":-0.194},{"s":12,"t":1.975,"i":-0.206},{"s":12,"t":2.025,"i":-0.189},{"s":12,"t":2.06,"i":-0.215},{"s":12,"t":2.075,"i":-0.196},{"s":12,"t":2.125,"i":-0.178},{"s":12,"t":2.175,"i":-0.19},{"s":12,"t":2.225,"i":-0.182},{"s":12,"t":2.275,"i":-0.191},{"s":12,"t":2.325,"i":-0.175},{"s":12,"t":2.35,"i":-0.222},{"s":12,"t":2.375,"i":-0.181},{"s":12,"t":2.425,"i":-0.17},{"s":12,"t":2.475,"i":-0.184},{"s":12,"t":2.525,"i":-0.173},{"s":12,"t":2.575,"i":-0.179},{"s":12,"t":2.6,"i":-0.17},
{"s":12,"t":2.6005,"i":0.225},{"s":12,"t":2.602,"i":-0.03},{"s":12,"t":2.615,"i":0.015},{"s":12,"t":2.64,"i":0.021},{"s":12,"t":2.67,"i":0.013},{"s":12,"t":2.704,"i":0.019},

{"s":13,"t":0.005,"i":0.012},{"s":13,"t":0.015,"i":0.007},{"s":13,"t":0.025,"i":-0.008},{"s":13,"t":0.038,"i":-0.011},{"s":13,"t":0.05,"i":0.011},{"s":13,"t":0.062,"i":0.01},{"s":13,"t":0.075,"i":-0.005},{"s":13,"t":0.087,"i":-0.01},{"s":13,"t":0.097,"i":0.002},{"s":13,"t":0.1,"i":0.006},
{"s":13,"t":0.1005,"i":-0.7},{"s":13,"t":0.101,"i":-0.298},{"s":13,"t":0.108,"i":-0.33},{"s":13,"t":0.118,"i":-0.36},{"s":13,"t":0.13,"i":-0.39},{"s":13,"t":0.15,"i":-0.435},{"s":13,"t":0.18,"i":-0.465},{"s":13,"t":0.22,"i":-0.505},{"s":13,"t":0.26,"i":-0.52},
{"s":13,"t":0.315,"i":-0.537},{"s":13,"t":0.365,"i":-0.511},{"s":13,"t":0.415,"i":-0.553},{"s":13,"t":0.465,"i":-0.495},{"s":13,"t":0.515,"i":-0.527},{"s":13,"t":0.565,"i":-0.487},{"s":13,"t":0.615,"i":-0.523},{"s":13,"t":0.665,"i":-0.497},{"s":13,"t":0.715,"i":-0.545},{"s":13,"t":0.765,"i":-0.505},{"s":13,"t":0.815,"i":-0.535},{"s":13,"t":0.865,"i":-0.483},{"s":13,"t":0.915,"i":-0.53},{"s":13,"t":0.965,"i":-0.509},{"s":13,"t":1.015,"i":-0.54},{"s":13,"t":1.065,"i":-0.493},{"s":13,"t":1.115,"i":-0.49},{"s":13,"t":1.165,"i":-0.533},{"s":13,"t":1.215,"i":-0.507},{"s":13,"t":1.216,"i":-0.66},{"s":13,"t":1.265,"i":-0.55},{"s":13,"t":1.315,"i":-0.5},{"s":13,"t":1.365,"i":-0.52},{"s":13,"t":1.415,"i":-0.485},{"s":13,"t":1.465,"i":-0.543},{"s":13,"t":1.515,"i":-0.503},{"s":13,"t":1.565,"i":-0.525},{"s":13,"t":1.6,"i":-0.48},
{"s":13,"t":0.275,"i":-0.474},{"s":13,"t":0.325,"i":-0.559},{"s":13,"t":0.375,"i":-0.481},{"s":13,"t":0.425,"i":-0.564},{"s":13,"t":0.475,"i":-0.468},{"s":13,"t":0.525,"i":-0.553},{"s":13,"t":0.575,"i":-0.472},{"s":13,"t":0.625,"i":-0.566},{"s":13,"t":0.675,"i":-0.479},{"s":13,"t":0.725,"i":-0.558},{"s":13,"t":0.775,"i":-0.466},{"s":13,"t":0.825,"i":-0.555},{"s":13,"t":0.875,"i":-0.47},{"s":13,"t":0.925,"i":-0.562},{"s":13,"t":0.975,"i":-0.477},{"s":13,"t":1.025,"i":-0.568},{"s":13,"t":1.075,"i":-0.472},{"s":13,"t":1.125,"i":-0.552},{"s":13,"t":1.175,"i":-0.467},{"s":13,"t":1.225,"i":-0.56},{"s":13,"t":1.275,"i":-0.476},{"s":13,"t":1.325,"i":-0.564},{"s":13,"t":1.375,"i":-0.471},{"s":13,"t":1.425,"i":-0.556},{"s":13,"t":1.475,"i":-0.464},{"s":13,"t":1.525,"i":-0.558},
{"s":13,"t":1.6005,"i":0.27},
{"s":13,"t":1.602,"i":-0.302},{"s":13,"t":1.65,"i":-0.303},{"s":13,"t":1.7,"i":-0.274},{"s":13,"t":1.75,"i":-0.284},{"s":13,"t":1.8,"i":-0.264},{"s":13,"t":1.85,"i":-0.28},{"s":13,"t":1.9,"i":-0.261},{"s":13,"t":1.95,"i":-0.269},{"s":13,"t":2.0,"i":-0.248},{"s":13,"t":2.05,"i":-0.261},{"s":13,"t":2.1,"i":-0.247},{"s":13,"t":2.15,"i":-0.262},{"s":13,"t":2.2,"i":-0.245},{"s":13,"t":2.25,"i":-0.251},{"s":13,"t":2.3,"i":-0.238},{"s":13,"t":2.35,"i":-0.253},{"s":13,"t":2.4,"i":-0.243},{"s":13,"t":2.41,"i":-0.275},{"s":13,"t":2.45,"i":-0.253},{"s":13,"t":2.5,"i":-0.236},{"s":13,"t":2.55,"i":-0.246},{"s":13,"t":2.6,"i":-0.238},
{"s":13,"t":2.6005,"i":0.215},{"s":13,"t":2.602,"i":-0.04},{"s":13,"t":2.615,"i":-0.005},{"s":13,"t":2.64,"i":0.004},{"s":13,"t":2.67,"i":-0.01},{"s":13,"t":2.704,"i":-0.003},

{"s":14,"t":0.005,"i":-0.006},{"s":14,"t":0.015,"i":-0.01},{"s":14,"t":0.025,"i":0.011},{"s":14,"t":0.038,"i":0.009},{"s":14,"t":0.05,"i":-0.009},{"s":14,"t":0.062,"i":-0.008},{"s":14,"t":0.075,"i":0.005},{"s":14,"t":0.087,"i":0.012},{"s":14,"t":0.097,"i":-0.012},{"s":14,"t":0.1,"i":0.002},
{"s":14,"t":0.1005,"i":-0.72},{"s":14,"t":0.101,"i":-0.302},{"s":14,"t":0.108,"i":-0.4},{"s":14,"t":0.118,"i":-0.475},{"s":14,"t":0.13,"i":-0.51},{"s":14,"t":0.15,"i":-0.548},{"s":14,"t":0.18,"i":-0.525},{"s":14,"t":0.22,"i":-0.565},{"s":14,"t":0.26,"i":-0.535},
{"s":14,"t":0.34,"i":-0.568},{"s":14,"t":0.39,"i":-0.532},{"s":14,"t":0.44,"i":-0.558},{"s":14,"t":0.49,"i":-0.51},{"s":14,"t":0.54,"i":-0.55},{"s":14,"t":0.59,"i":-0.52},{"s":14,"t":0.64,"i":-0.572},{"s":14,"t":0.69,"i":-0.525},{"s":14,"t":0.74,"i":-0.546},{"s":14,"t":0.79,"i":-0.515},{"s":14,"t":0.84,"i":-0.562},{"s":14,"t":0.89,"i":-0.565},{"s":14,"t":0.94,"i":-0.522},{"s":14,"t":0.99,"i":-0.548},{"s":14,"t":1.04,"i":-0.505},{"s":14,"t":1.09,"i":-0.555},{"s":14,"t":1.14,"i":-0.535},{"s":14,"t":1.19,"i":-0.57},{"s":14,"t":1.24,"i":-0.512},{"s":14,"t":1.29,"i":-0.552},{"s":14,"t":1.34,"i":-0.53},{"s":14,"t":1.39,"i":-0.575},{"s":14,"t":1.44,"i":-0.518},{"s":14,"t":1.49,"i":-0.544},{"s":14,"t":1.54,"i":-0.502},{"s":14,"t":1.59,"i":-0.56},{"s":14,"t":1.6,"i":-0.528},
{"s":14,"t":0.331,"i":-0.574},{"s":14,"t":0.381,"i":-0.491},{"s":14,"t":0.431,"i":-0.587},{"s":14,"t":0.481,"i":-0.502},{"s":14,"t":0.531,"i":-0.583},{"s":14,"t":0.581,"i":-0.489},{"s":14,"t":0.631,"i":-0.576},{"s":14,"t":0.681,"i":-0.497},{"s":14,"t":0.731,"i":-0.589},{"s":14,"t":0.781,"i":-0.5},{"s":14,"t":0.831,"i":-0.585},{"s":14,"t":0.881,"i":-0.493},{"s":14,"t":0.931,"i":-0.578},{"s":14,"t":0.981,"i":-0.487},{"s":14,"t":1.031,"i":-0.583},{"s":14,"t":1.081,"i":-0.503},{"s":14,"t":1.131,"i":-0.588},{"s":14,"t":1.181,"i":-0.495},{"s":14,"t":1.231,"i":-0.579},{"s":14,"t":1.281,"i":-0.491},{"s":14,"t":1.331,"i":-0.584},{"s":14,"t":1.381,"i":-0.499},{"s":14,"t":1.431,"i":-0.591},{"s":14,"t":1.481,"i":-0.497},{"s":14,"t":1.531,"i":-0.581},
{"s":14,"t":1.6005,"i":0.29},
{"s":14,"t":1.602,"i":-0.352},{"s":14,"t":1.625,"i":-0.334},{"s":14,"t":1.675,"i":-0.351},{"s":14,"t":1.725,"i":-0.326},{"s":14,"t":1.775,"i":-0.336},{"s":14,"t":1.825,"i":-0.31},{"s":14,"t":1.875,"i":-0.321},{"s":14,"t":1.925,"i":-0.306},{"s":14,"t":1.975,"i":-0.322},{"s":14,"t":2.025,"i":-0.303},{"s":14,"t":2.075,"i":-0.313},{"s":14,"t":2.125,"i":-0.292},{"s":14,"t":2.175,"i":-0.307},{"s":14,"t":2.225,"i":-0.298},{"s":14,"t":2.275,"i":-0.31},{"s":14,"t":2.325,"i":-0.291},{"s":14,"t":2.375,"i":-0.299},{"s":14,"t":2.425,"i":-0.286},{"s":14,"t":2.475,"i":-0.303},{"s":14,"t":2.525,"i":-0.291},{"s":14,"t":2.575,"i":-0.298},{"s":14,"t":2.6,"i":-0.289},
{"s":14,"t":2.6005,"i":0.246},{"s":14,"t":2.602,"i":-0.025},{"s":14,"t":2.615,"i":0.032},{"s":14,"t":2.64,"i":0.026},{"s":14,"t":2.67,"i":0.036},{"s":14,"t":2.704,"i":0.03},

{"s":15,"t":0.005,"i":0.002},{"s":15,"t":0.015,"i":0.009},{"s":15,"t":0.025,"i":-0.002},{"s":15,"t":0.038,"i":-0.008},{"s":15,"t":0.05,"i":0.012},{"s":15,"t":0.062,"i":0.011},{"s":15,"t":0.075,"i":-0.011},{"s":15,"t":0.087,"i":-0.007},{"s":15,"t":0.097,"i":0.011},{"s":15,"t":0.1,"i":-0.009},
{"s":15,"t":0.1005,"i":-0.7},{"s":15,"t":0.101,"i":-0.305},{"s":15,"t":0.108,"i":-0.425},{"s":15,"t":0.118,"i":-0.495},{"s":15,"t":0.13,"i":-0.54},{"s":15,"t":0.15,"i":-0.575},{"s":15,"t":0.18,"i":-0.55},{"s":15,"t":0.22,"i":-0.59},{"s":15,"t":0.26,"i":-0.56},
{"s":15,"t":0.321,"i":-0.575},{"s":15,"t":0.371,"i":-0.523},{"s":15,"t":0.421,"i":-0.57},{"s":15,"t":0.471,"i":-0.549},{"s":15,"t":0.521,"i":-0.58},{"s":15,"t":0.571,"i":-0.533},{"s":15,"t":0.621,"i":-0.53},{"s":15,"t":0.671,"i":-0.573},{"s":15,"t":0.721,"i":-0.547},{"s":15,"t":0.771,"i":-0.59},{"s":15,"t":0.821,"i":-0.54},{"s":15,"t":0.871,"i":-0.56},{"s":15,"t":0.921,"i":-0.525},{"s":15,"t":0.971,"i":-0.583},{"s":15,"t":1.021,"i":-0.543},{"s":15,"t":1.071,"i":-0.565},{"s":15,"t":1.121,"i":-0.52},{"s":15,"t":1.171,"i":-0.577},{"s":15,"t":1.221,"i":-0.551},{"s":15,"t":1.271,"i":-0.593},{"s":15,"t":1.274,"i":-0.765},{"s":15,"t":1.321,"i":-0.535},{"s":15,"t":1.371,"i":-0.567},{"s":15,"t":1.421,"i":-0.527},{"s":15,"t":1.471,"i":-0.563},{"s":15,"t":1.521,"i":-0.537},{"s":15,"t":1.571,"i":-0.585},{"s":15,"t":1.6,"i":-0.545},
{"s":15,"t":0.288,"i":-0.508},{"s":15,"t":0.338,"i":-0.593},{"s":15,"t":0.388,"i":-0.512},{"s":15,"t":0.438,"i":-0.606},{"s":15,"t":0.488,"i":-0.519},{"s":15,"t":0.538,"i":-0.598},{"s":15,"t":0.588,"i":-0.506},{"s":15,"t":0.638,"i":-0.595},{"s":15,"t":0.688,"i":-0.51},{"s":15,"t":0.738,"i":-0.602},{"s":15,"t":0.788,"i":-0.517},{"s":15,"t":0.838,"i":-0.608},{"s":15,"t":0.888,"i":-0.512},{"s":15,"t":0.938,"i":-0.592},{"s":15,"t":0.988,"i":-0.507},{"s":15,"t":1.038,"i":-0.6},{"s":15,"t":1.088,"i":-0.516},{"s":15,"t":1.138,"i":-0.604},{"s":15,"t":1.188,"i":-0.511},{"s":15,"t":1.238,"i":-0.596},{"s":15,"t":1.288,"i":-0.504},{"s":15,"t":1.338,"i":-0.598},{"s":15,"t":1.388,"i":-0.514},{"s":15,"t":1.438,"i":-0.599},{"s":15,"t":1.488,"i":-0.521},{"s":15,"t":1.538,"i":-0.604},
{"s":15,"t":1.6005,"i":0.25},
{"s":15,"t":1.602,"i":-0.432},{"s":15,"t":1.65,"i":-0.436},{"s":15,"t":1.7,"i":-0.404},{"s":15,"t":1.75,"i":-0.419},{"s":15,"t":1.8,"i":-0.397},{"s":15,"t":1.85,"i":-0.417},{"s":15,"t":1.9,"i":-0.397},{"s":15,"t":1.95,"i":-0.407},{"s":15,"t":2.0,"i":-0.382},{"s":15,"t":2.05,"i":-0.399},{"s":15,"t":2.1,"i":-0.383},{"s":15,"t":2.15,"i":-0.401},{"s":15,"t":2.2,"i":-0.382},{"s":15,"t":2.25,"i":-0.39},{"s":15,"t":2.3,"i":-0.374},{"s":15,"t":2.35,"i":-0.393},{"s":15,"t":2.4,"i":-0.381},{"s":15,"t":2.45,"i":-0.394},{"s":15,"t":2.5,"i":-0.374},{"s":15,"t":2.55,"i":-0.386},{"s":15,"t":2.6,"i":-0.377},
{"s":15,"t":2.6005,"i":0.23},{"s":15,"t":2.602,"i":-0.035},{"s":15,"t":2.615,"i":0.008},{"s":15,"t":2.64,"i":0.014},{"s":15,"t":2.67,"i":0.006},{"s":15,"t":2.704,"i":0.012},

{"s":16,"t":0.005,"i":-0.002},{"s":16,"t":0.015,"i":-0.009},{"s":16,"t":0.025,"i":0.005},{"s":16,"t":0.038,"i":0.01},{"s":16,"t":0.05,"i":-0.002},{"s":16,"t":0.062,"i":-0.01},{"s":16,"t":0.075,"i":0.009},{"s":16,"t":0.087,"i":0.009},{"s":16,"t":0.097,"i":-0.006},{"s":16,"t":0.1,"i":0.005},
{"s":16,"t":0.1005,"i":-0.71},{"s":16,"t":0.101,"i":-0.3},{"s":16,"t":0.108,"i":-0.37},{"s":16,"t":0.118,"i":-0.405},{"s":16,"t":0.13,"i":-0.465},{"s":16,"t":0.15,"i":-0.485},{"s":16,"t":0.18,"i":-0.525},{"s":16,"t":0.22,"i":-0.545},{"s":16,"t":0.26,"i":-0.52},
{"s":16,"t":0.346,"i":-0.557},{"s":16,"t":0.396,"i":-0.56},{"s":16,"t":0.446,"i":-0.517},{"s":16,"t":0.496,"i":-0.543},{"s":16,"t":0.546,"i":-0.5},{"s":16,"t":0.596,"i":-0.55},{"s":16,"t":0.646,"i":-0.53},{"s":16,"t":0.696,"i":-0.565},{"s":16,"t":0.746,"i":-0.507},{"s":16,"t":0.796,"i":-0.547},{"s":16,"t":0.846,"i":-0.525},{"s":16,"t":0.896,"i":-0.57},{"s":16,"t":0.946,"i":-0.513},{"s":16,"t":0.996,"i":-0.539},{"s":16,"t":1.046,"i":-0.497},{"s":16,"t":1.096,"i":-0.555},{"s":16,"t":1.146,"i":-0.523},{"s":16,"t":1.196,"i":-0.563},{"s":16,"t":1.246,"i":-0.527},{"s":16,"t":1.296,"i":-0.553},{"s":16,"t":1.346,"i":-0.505},{"s":16,"t":1.396,"i":-0.545},{"s":16,"t":1.446,"i":-0.515},{"s":16,"t":1.496,"i":-0.567},{"s":16,"t":1.546,"i":-0.52},{"s":16,"t":1.596,"i":-0.541},{"s":16,"t":1.6,"i":-0.51},
{"s":16,"t":0.337,"i":-0.578},{"s":16,"t":0.387,"i":-0.484},{"s":16,"t":0.437,"i":-0.571},{"s":16,"t":0.487,"i":-0.492},{"s":16,"t":0.537,"i":-0.584},{"s":16,"t":0.587,"i":-0.495},{"s":16,"t":0.637,"i":-0.58},{"s":16,"t":0.687,"i":-0.488},{"s":16,"t":0.737,"i":-0.573},{"s":16,"t":0.787,"i":-0.482},{"s":16,"t":0.837,"i":-0.578},{"s":16,"t":0.887,"i":-0.498},{"s":16,"t":0.937,"i":-0.583},{"s":16,"t":0.987,"i":-0.49},{"s":16,"t":1.037,"i":-0.574},{"s":16,"t":1.087,"i":-0.486},{"s":16,"t":1.137,"i":-0.579},{"s":16,"t":1.187,"i":-0.494},{"s":16,"t":1.237,"i":-0.586},{"s":16,"t":1.287,"i":-0.492},{"s":16,"t":1.337,"i":-0.576},{"s":16,"t":1.387,"i":-0.491},{"s":16,"t":1.437,"i":-0.569},{"s":16,"t":1.487,"i":-0.486},{"s":16,"t":1.537,"i":-0.582},
{"s":16,"t":1.6005,"i":0.28},
{"s":16,"t":1.602,"i":-0.49},{"s":16,"t":1.625,"i":-0.46},{"s":16,"t":1.675,"i":-0.49},{"s":16,"t":1.725,"i":-0.466},{"s":16,"t":1.743,"i":-0.535},{"s":16,"t":1.775,"i":-0.487},{"s":16,"t":1.825,"i":-0.455},{"s":16,"t":1.875,"i":-0.478},{"s":16,"t":1.886,"i":-0.52},{"s":16,"t":1.925,"i":-0.461},{"s":16,"t":1.975,"i":-0.492},{"s":16,"t":2.025,"i":-0.466},{"s":16,"t":2.037,"i":-0.651},{"s":16,"t":2.075,"i":-0.483},{"s":16,"t":2.125,"i":-0.457},{"s":16,"t":2.175,"i":-0.482},{"s":16,"t":2.225,"i":-0.469},{"s":16,"t":2.275,"i":-0.489},{"s":16,"t":2.325,"i":-0.462},{"s":16,"t":2.33,"i":-0.527},{"s":16,"t":2.375,"i":-0.476},{"s":16,"t":2.41,"i":-0.508},{"s":16,"t":2.425,"i":-0.459},{"s":16,"t":2.475,"i":-0.485},{"s":16,"t":2.525,"i":-0.465},{"s":16,"t":2.575,"i":-0.48},{"s":16,"t":2.6,"i":-0.47},
{"s":16,"t":2.6005,"i":0.24},{"s":16,"t":2.602,"i":-0.045},{"s":16,"t":2.615,"i":-0.015},{"s":16,"t":2.64,"i":-0.022},{"s":16,"t":2.67,"i":-0.012},{"s":16,"t":2.704,"i":-0.018}
]},
"mark": {"type": "line", "color": "#000000", "strokeWidth": 1.6, "clip": true},
"encoding": {
"x": {"field": "t", "type": "quantitative",
"scale": {"domain": [0.0046, 2.7048], "nice": false, "zero": false},
"axis": {"values": [0.1, 1.6, 2.6], "format": ".1f", "title": "t [s]", "grid": false,
"tickSize": -5.5, "tickColor": "#262626", "tickWidth": 1, "domainColor": "#262626", "domainWidth": 1,
"labelFont": "DejaVu Sans", "labelFontSize": 23, "labelColor": "#262626", "labelPadding": 16.5, "labelFlush": false, "labelOverlap": false,
"titleFont": "DejaVu Sans", "titleFontSize": 25, "titleFontWeight": "normal", "titleColor": "#262626",
"titleX": 299, "titleY": 64, "titleAlign": "center", "titleBaseline": "alphabetic"}},
"y": {"field": "i", "type": "quantitative",
"scale": {"domain": [-0.871, 0.395], "nice": false, "zero": false},
"axis": {"values": [-0.6, -0.3, 0, 0.3],
"labelExpr": "datum.value == 0 ? '0' : (datum.value < 0 ? '-' + format(-datum.value, '.1f') : format(datum.value, '.1f'))",
"title": "I [nA]", "grid": false,
"tickSize": -5.5, "tickColor": "#262626", "tickWidth": 1, "domainColor": "#262626", "domainWidth": 1,
"labelFont": "DejaVu Sans", "labelFontSize": 23, "labelColor": "#262626", "labelPadding": 22, "labelOffset": 1.5, "labelOverlap": false,
"titleFont": "DejaVu Sans", "titleFontSize": 25, "titleFontWeight": "normal", "titleColor": "#262626",
"titleX": -65, "titleY": 234.5, "titleAngle": 270, "titleAlign": "center", "titleBaseline": "alphabetic"}},
"detail": {"field": "s", "type": "nominal"}
}
},
{
"data": {"values": [{"label": "25 °C \u00a0Deactivation"}]},
"mark": {"type": "text", "align": "right", "baseline": "alphabetic", "font": "DejaVu Sans", "fontSize": 19, "color": "#000000"},
"encoding": {"x": {"datum": 2.697}, "y": {"datum": 0.3834}, "text": {"field": "label"}}
},
{
"data": {"values": [{"label": "BBP Channelpedia ID 40334 rep 2"}]},
"mark": {"type": "text", "align": "center", "baseline": "alphabetic", "angle": 270, "font": "DejaVu Sans", "fontSize": 13.4, "color": "#000000"},
"encoding": {"x": {"datum": 2.78}, "y": {"datum": -0.2387}, "text": {"field": "label"}}
}
]
}
